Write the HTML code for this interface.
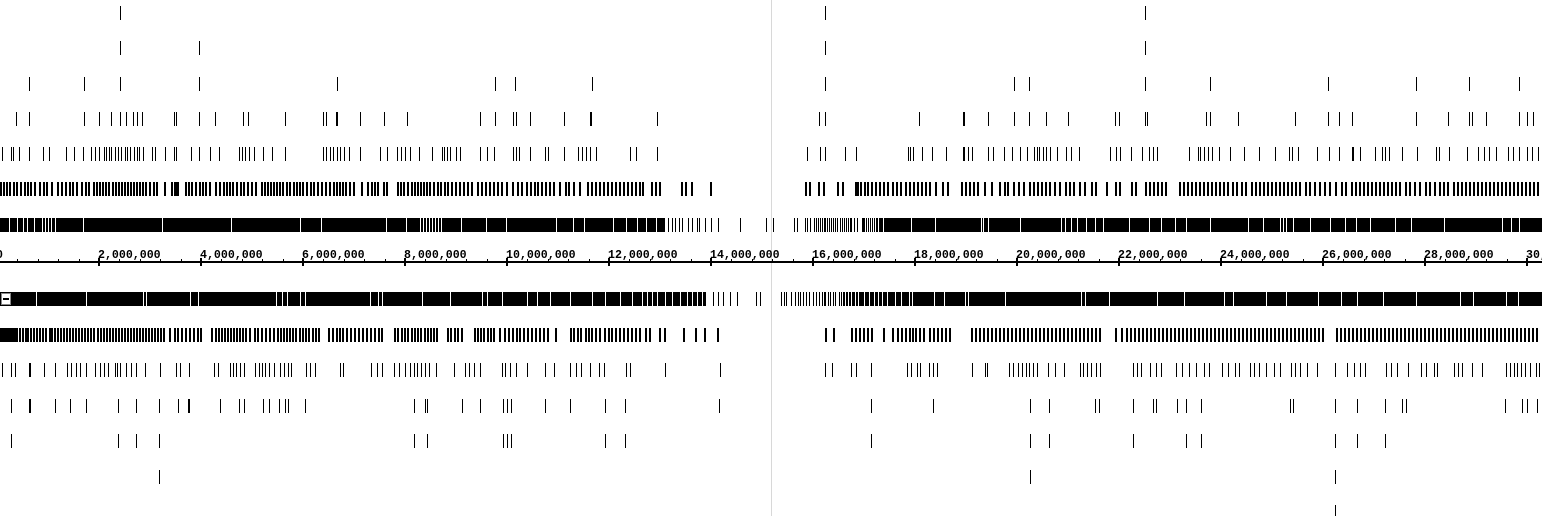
<!DOCTYPE html>
<html><head><meta charset="utf-8"><style>
html,body{margin:0;padding:0;background:#fff;}
#wrap{position:relative;width:1542px;height:516px;overflow:hidden;}
svg{position:absolute;left:0;top:0;}
text{font-family:"Liberation Mono",monospace;font-weight:bold;font-size:11.6px;fill:#000;}
</style></head><body>
<div id="wrap">
<svg id="chart" width="1542" height="516" shape-rendering="crispEdges"></svg>
</div>
<script>
// ---- data (positions in Mb) ----
const axisTicksMb = [0,2,4,6,8,10,12,14,16,18,20,22,24,26,28,30];
const axisLabels = ["0","2,000,000","4,000,000","6,000,000","8,000,000","10,000,000","12,000,000","14,000,000","16,000,000","18,000,000","20,000,000","22,000,000","24,000,000","26,000,000","28,000,000","30,000,000"];
const top1 = [2.43,16.24,22.51];
const top2 = [2.43,3.98,16.24,22.51];
const top3 = [0.63,1.71,2.43,3.98,6.67,9.78,10.16,11.67,16.24,19.96,20.25,22.51,23.8,26.1,27.84,28.88,29.86];
const top4 = [0.39,0.63,1.71,2.0,2.24,2.43,2.53,2.67,2.75,2.86,3.49,3.51,3.98,4.29,4.84,4.94,5.65,6.41,6.47,6.65,6.67,7.12,7.59,8.04,9.49,9.78,10.12,10.18,10.47,11.12,11.63,11.65,12.96,16.12,16.24,18.08,18.96,18.98,19.45,19.96,20.25,20.57,21.0,21.94,22.0,22.51,22.55,23.71,23.8,24.35,25.47,26.1,26.33,26.57,27.84,28.47,28.88,28.94,29.2,29.86,30.0,30.12];
const top5 = [0.1,0.29,0.33,0.45,0.63,0.92,1.02,1.37,1.51,1.69,1.86,1.94,2.0,2.1,2.14,2.2,2.25,2.33,2.39,2.45,2.51,2.55,2.61,2.69,2.75,2.8,2.88,3.04,3.1,3.31,3.49,3.51,3.82,3.98,4.18,4.37,4.76,4.82,4.88,4.96,5.04,5.22,5.41,5.65,6.41,6.47,6.53,6.59,6.67,6.73,6.82,6.92,7.12,7.51,7.65,7.86,7.94,8.0,8.1,8.29,8.53,8.73,8.78,8.84,8.9,9.0,9.08,9.49,9.61,9.76,10.12,10.18,10.25,10.47,10.76,10.82,11.12,11.41,11.49,11.55,11.63,11.75,12.43,12.53,12.96,
15.9,16.14,16.24,16.63,16.86,17.88,17.92,17.98,18.14,18.35,18.61,18.96,18.98,19.04,19.12,19.45,19.53,19.76,19.92,20.06,20.2,20.35,20.41,20.45,20.51,20.57,20.65,20.8,20.98,21.06,21.22,21.84,21.96,22.02,22.24,22.47,22.59,22.67,22.76,23.39,23.55,23.59,23.67,23.75,23.84,23.98,24.18,24.47,24.76,25.06,25.35,25.41,25.51,25.9,26.12,26.33,26.57,26.59,26.73,27.02,27.16,27.22,27.31,27.55,27.86,28.22,28.29,28.49,28.84,29.04,29.16,29.27,29.41,29.63,29.73,29.86,30.0,30.1,30.22];
const top6 = [0.08,0.14,0.2,0.25,0.33,0.39,0.47,0.55,0.61,0.67,0.75,0.84,0.92,0.98,1.08,1.2,1.27,1.35,1.43,1.49,1.57,1.67,1.75,1.8,1.9,1.96,2.02,2.08,2.14,2.2,2.27,2.33,2.39,2.45,2.51,2.57,2.63,2.69,2.75,2.8,2.86,2.92,3.0,3.08,3.14,3.29,3.43,3.49,3.51,3.55,3.71,3.76,3.82,3.9,3.98,4.04,4.1,4.18,4.29,4.37,4.45,4.51,4.57,4.63,4.71,4.78,4.84,4.92,5.0,5.08,5.2,5.25,5.31,5.37,5.43,5.49,5.55,5.61,5.69,5.75,5.82,5.88,5.94,6.0,6.08,6.16,6.22,6.29,6.37,6.45,6.53,6.61,6.67,6.73,6.78,6.84,6.92,7.0,7.16,7.27,7.35,7.41,7.47,7.59,7.65,7.86,7.92,7.98,8.06,8.14,8.2,8.25,8.31,8.37,8.43,8.49,8.57,8.65,8.71,8.78,8.84,8.92,9.0,9.08,9.16,9.24,9.31,9.43,9.51,9.59,9.67,9.75,9.82,9.9,10.0,10.12,10.22,10.29,10.39,10.47,10.55,10.61,10.69,10.76,10.84,10.92,11.04,11.16,11.22,11.31,11.43,11.59,11.67,11.75,11.82,11.9,11.98,12.06,12.14,12.22,12.29,12.37,12.45,12.53,12.61,12.67,12.84,12.92,13.0,13.43,13.51,13.63,14.0,
15.86,15.94,16.12,16.22,16.49,16.59,16.84,16.88,16.94,17.02,17.08,17.16,17.24,17.31,17.39,17.47,17.57,17.65,17.73,17.82,17.9,17.98,18.06,18.14,18.22,18.29,18.41,18.55,18.65,18.92,19.0,19.08,19.16,19.24,19.37,19.51,19.67,19.76,19.82,19.94,20.04,20.14,20.25,20.33,20.41,20.49,20.57,20.65,20.75,20.84,20.96,21.04,21.12,21.24,21.33,21.47,21.55,21.76,21.94,22.02,22.25,22.33,22.53,22.61,22.69,22.76,22.84,22.92,23.2,23.27,23.35,23.43,23.51,23.59,23.67,23.75,23.82,23.9,23.98,24.06,24.14,24.24,24.31,24.41,24.49,24.61,24.69,24.76,24.84,24.92,25.0,25.08,25.16,25.24,25.31,25.39,25.47,25.55,25.67,25.75,25.84,25.94,26.04,26.14,26.25,26.37,26.45,26.57,26.65,26.73,26.8,26.88,26.96,27.04,27.12,27.2,27.27,27.35,27.43,27.51,27.63,27.71,27.8,27.9,28.02,28.1,28.2,28.29,28.37,28.45,28.57,28.65,28.73,28.8,28.88,28.96,29.04,29.12,29.2,29.27,29.35,29.43,29.51,29.59,29.67,29.75,29.82,29.9,29.98,30.06,30.14,30.22];
const top7Blocks = [[0,13.1],[16.96,30.3]];
const top7Gaps = [0.24,0.39,0.51,0.59,0.73,0.88,0.94,1.0,1.06,1.14,1.69,3.24,4.59,5.94,6.35,7.63,8.02,8.29,8.35,8.41,8.47,8.53,8.59,8.65,8.71,9.1,9.59,9.98,10.96,11.29,11.51,12.08,12.33,12.55,12.73,12.92,
17.02,17.06,17.1,17.14,17.18,17.22,17.27,17.37,17.92,18.39,19.29,19.33,19.43,20.06,20.86,20.94,21.06,21.18,21.35,21.53,21.69,22.2,22.59,22.82,23.1,23.31,23.78,24.53,24.82,25.16,25.22,25.27,25.41,25.75,26.14,26.43,26.65,26.92,27.41,27.73,28.37,29.51,29.69,29.84];
const top7Ticks = [13.16,13.24,13.31,13.39,13.45,13.55,13.63,13.73,13.78,13.9,14.0,14.14,14.57,15.08,15.22,15.63,15.69,15.86,15.9,15.96,16.02,16.06,16.1,16.14,16.18,16.22,16.25,16.29,16.33,16.37,16.41,16.45,16.49,16.53,16.57,16.61,16.65,16.69,16.73,16.76,16.82,16.88];
const bot1Blocks = [[0,13.9],[16.59,30.3]];
const bot1Gaps = [0.76,1.75,2.86,2.92,3.78,3.94,5.47,5.59,5.69,5.94,6.04,7.31,7.47,7.55,8.33,8.88,9.51,9.61,9.9,10.39,10.59,10.84,11.24,11.67,11.92,12.22,12.45,12.65,12.75,12.84,12.94,13.1,13.24,13.39,13.53,13.63,13.73,13.82,
16.63,16.69,16.75,16.82,16.88,17.0,17.1,17.2,17.27,17.35,17.45,17.61,17.73,17.88,17.94,18.37,18.57,18.98,19.04,19.76,21.25,21.33,21.8,22.75,23.27,24.06,24.24,24.88,25.27,25.9,26.35,26.67,27.18,27.82,28.69,28.94,29.59,29.82];
const bot1Ticks = [14.04,14.14,14.25,14.39,14.51,14.9,14.98,15.39,15.45,15.49,15.57,15.65,15.71,15.76,15.82,15.88,15.94,16.0,16.06,16.12,16.18,16.22,16.25,16.31,16.35,16.41,16.45,16.51,16.55];
const bot2 = [0.08,0.12,0.16,0.2,0.24,0.27,0.31,0.35,0.39,0.45,0.51,0.57,0.61,0.67,0.73,0.78,0.84,0.9,0.96,1.04,1.08,1.14,1.2,1.25,1.31,1.37,1.43,1.49,1.55,1.61,1.67,1.73,1.78,1.84,1.9,1.98,2.04,2.1,2.16,2.22,2.27,2.33,2.39,2.45,2.51,2.57,2.63,2.69,2.75,2.8,2.86,2.92,2.98,3.04,3.1,3.16,3.22,3.27,3.39,3.49,3.55,3.63,3.71,3.78,3.86,3.94,4.0,4.22,4.29,4.35,4.41,4.47,4.53,4.59,4.65,4.71,4.76,4.82,4.88,4.96,5.06,5.12,5.2,5.27,5.35,5.43,5.51,5.57,5.63,5.69,5.75,5.8,5.86,5.94,6.0,6.06,6.12,6.2,6.25,6.31,6.51,6.59,6.67,6.73,6.78,6.86,6.94,7.02,7.1,7.18,7.25,7.33,7.41,7.49,7.55,7.8,7.86,7.94,8.0,8.06,8.14,8.2,8.25,8.31,8.39,8.45,8.51,8.57,8.63,8.84,8.9,8.98,9.04,9.12,9.37,9.43,9.49,9.55,9.63,9.69,9.75,9.86,9.96,10.04,10.12,10.2,10.25,10.33,10.41,10.49,10.57,10.65,10.73,10.8,10.96,11.25,11.31,11.39,11.45,11.55,11.61,11.67,11.75,11.82,11.92,12.0,12.06,12.14,12.22,12.29,12.37,12.45,12.53,12.61,12.73,12.8,13.0,13.1,13.47,13.71,13.88,14.14,
16.25,16.41,16.76,16.84,16.92,17.0,17.08,17.16,17.39,17.57,17.67,17.75,17.82,17.9,17.96,18.02,18.1,18.18,18.29,18.37,18.45,18.53,18.61,18.69,19.12,19.2,19.27,19.35,19.43,19.51,19.59,19.67,19.75,19.82,19.9,19.98,20.06,20.14,20.22,20.29,20.37,20.45,20.53,20.61,20.69,20.76,20.84,20.92,21.0,21.08,21.16,21.24,21.31,21.39,21.47,21.55,21.63,21.94,22.06,22.16,22.24,22.31,22.39,22.47,22.55,22.63,22.71,22.78,22.86,22.94,23.02,23.1,23.18,23.25,23.33,23.41,23.49,23.57,23.65,23.73,23.8,23.88,23.96,24.04,24.12,24.2,24.27,24.35,24.43,24.51,24.59,24.67,24.75,24.82,24.9,24.98,25.06,25.14,25.22,25.29,25.37,25.45,25.53,25.61,25.69,25.76,25.84,25.92,26.0,26.27,26.35,26.43,26.51,26.59,26.67,26.75,26.82,26.9,26.98,27.06,27.14,27.22,27.29,27.37,27.45,27.53,27.61,27.69,27.76,27.84,27.92,28.0,28.08,28.16,28.24,28.31,28.39,28.47,28.55,28.63,28.71,28.78,28.86,28.94,29.02,29.1,29.18,29.25,29.33,29.41,29.49,29.57,29.65,29.73,29.8,29.88,29.96,30.04,30.12,30.2];
const bot3 = [0.1,0.29,0.37,0.63,0.65,0.94,1.14,1.39,1.47,1.55,1.63,1.75,1.94,2.02,2.1,2.18,2.33,2.37,2.43,2.53,2.63,2.73,2.92,3.2,3.51,3.59,3.78,4.27,4.35,4.57,4.63,4.69,4.78,4.86,5.06,5.14,5.2,5.27,5.35,5.45,5.55,5.63,5.71,5.78,6.06,6.14,6.24,6.73,6.8,7.35,7.47,7.55,7.8,7.9,8.0,8.1,8.18,8.25,8.33,8.41,8.49,8.61,8.98,9.18,9.27,9.37,9.49,9.92,9.98,10.06,10.18,10.41,10.75,10.94,11.24,11.37,11.47,11.63,11.82,11.92,12.35,12.43,13.1,14.18,
16.25,16.39,16.76,16.86,17.14,17.86,17.94,18.04,18.1,18.29,18.37,18.45,19.12,19.39,19.43,19.86,19.94,20.02,20.1,20.18,20.25,20.33,20.41,20.61,20.75,20.94,21.24,21.31,21.39,21.47,21.55,21.63,22.29,22.37,22.45,22.61,22.73,22.84,23.12,23.25,23.39,23.51,23.67,23.78,24.02,24.14,24.29,24.37,24.57,24.65,24.76,24.9,25.04,25.16,25.39,25.47,25.55,25.69,25.9,26.25,26.49,26.61,26.73,26.84,27.24,27.35,27.47,27.67,27.94,28.02,28.18,28.25,28.57,28.65,28.73,28.94,29.12,29.59,29.67,29.75,29.82,29.9,29.98,30.06,30.18,30.25];
const bot4 = [0.29,0.63,0.65,1.14,1.45,1.76,2.39,2.73,3.18,3.55,3.75,3.78,4.39,4.75,4.86,5.22,5.35,5.53,5.65,5.71,6.04,8.18,8.41,8.45,9.12,9.49,9.94,10.0,10.08,10.76,11.25,11.94,12.33,14.16,17.14,18.37,20.27,20.63,21.53,21.61,22.29,22.67,22.73,23.14,23.33,23.61,25.37,25.43,26.25,26.67,27.22,27.55,27.63,29.57,29.92,30.0,30.2];
const bot5 = [0.29,2.39,2.73,3.18,8.18,8.45,9.94,10.0,10.08,11.94,12.33,17.14,20.27,20.63,22.29,23.33,23.61,26.25,26.67,27.22];
const bot6 = [3.18,20.27,26.25];
const bot7 = [26.25];

// ---- rendering ----
const NS = "http://www.w3.org/2000/svg";
const svg = document.getElementById("chart");
const domainStart = 0, pxPerMb = 51, originPx = -3;
function xScale(mb){ return originPx + (mb - domainStart) * pxPerMb; }
function mk(tag, attrs, parent){
  const e = document.createElementNS(NS, tag);
  for (const k in attrs) e.setAttribute(k, attrs[k]);
  (parent || svg).appendChild(e);
  return e;
}
const divider = mk("rect",{x:771,y:0,width:1,height:516,fill:"#d8d8d8"});



function drawTicks(arr, yc, h, w, name){
  const g = mk("g",{});
  
  
  arr.forEach(function(v){
    const r = mk("rect",{x:Math.round(xScale(v)-w/2),y:Math.round(yc-h/2),width:w,height:h,fill:"#000"},g);
    
    
  });
}
function drawBlocks(blocks, gaps, yc, h, name){
  const g = mk("g",{});
  
  
  blocks.forEach(function(b){
    const x0 = Math.max(0, Math.round(xScale(b[0]))), x1 = Math.min(1542, Math.round(xScale(b[1])));
    const r = mk("rect",{x:x0,y:Math.round(yc-h/2),width:x1-x0,height:h,fill:"#000"},g);
    
    
  });
  gaps.forEach(function(v){
    const r = mk("rect",{x:Math.round(xScale(v)),y:Math.round(yc-h/2),width:1,height:h,fill:"#fff"},g);
    
    
  });
}
const H = 14;
drawTicks(top1, 13, H, 1, 'track-row-1');
drawTicks(top2, 48, H, 1, 'track-row-2');
drawTicks(top3, 84, H, 1, 'track-row-3');
drawTicks(top4, 119, H, 1, 'track-row-4');
drawTicks(top5, 154, H, 1, 'track-row-5');
drawTicks(top6, 189, H, 2, 'track-row-6');
drawBlocks(top7Blocks, top7Gaps, 225, H, 'track-row-7');
drawTicks(top7Ticks, 225, H, 1, 'track-row-7-ticks');

drawBlocks(bot1Blocks, bot1Gaps, 299, H, 'lower-row-1');
drawTicks(bot1Ticks, 299, H, 1, 'lower-row-1-ticks');
drawTicks(bot2, 335, H, 2, 'lower-row-2');
drawTicks(bot3, 370, H, 1, 'lower-row-3');
drawTicks(bot4, 406, H, 1, 'lower-row-4');
drawTicks(bot5, 441, H, 1, 'lower-row-5');
drawTicks(bot6, 477, H, 1, 'lower-row-6');
drawTicks(bot7, 511, 12, 1, 'lower-row-7');

const icon = mk("g",{});


mk("rect",{x:1.5,y:293.5,width:9,height:11,fill:"#fff",stroke:"#888","stroke-width":1},icon);
mk("rect",{x:3,y:298,width:6,height:2,fill:"#000"},icon);

const axis = mk("g",{});


mk("rect",{x:0,y:261,width:1542,height:2,fill:"#000"},axis);
for (let i = 0; i < axisTicksMb.length; i++){
  const x = Math.round(xScale(axisTicksMb[i]));
  const t = mk("rect",{x:x-1,y:258,width:2,height:8,fill:"#000"},axis);
  
  
  const lb = mk("text",{x:x-1,y:258},axis);
  lb.textContent = axisLabels[i];
  
  
  for (let k = 1; k < 5; k++){
    const xm = Math.round(xScale(axisTicksMb[i] + k*0.4));
    if (xm > 1542) break;
    const m = mk("rect",{x:xm,y:259,width:1,height:2,fill:"#000"},axis);
    
    
  }
}
</script>
</body></html>
